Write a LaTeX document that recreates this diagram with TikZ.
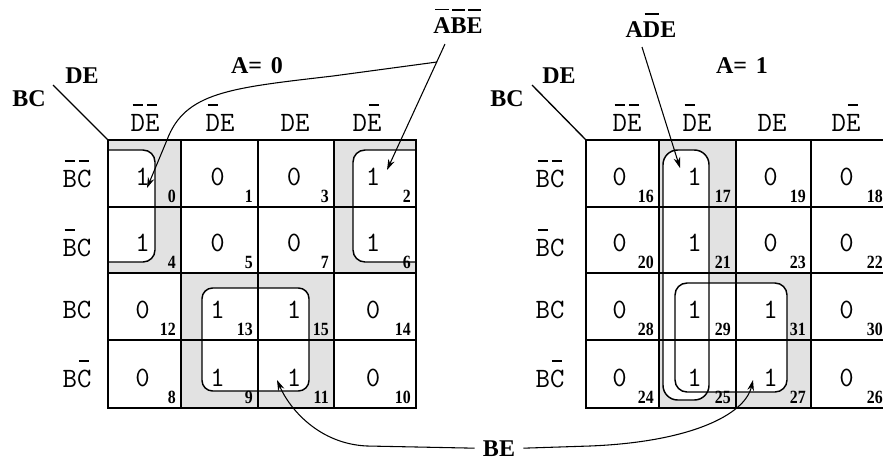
\documentclass[tikz,border=0pt]{standalone}
\usepackage{fontspec}
\usepackage{graphicx}
\setmainfont{Liberation Serif}
\usetikzlibrary{arrows.meta}
\definecolor{cellgray}{RGB}{226,226,226}
\newcommand\ovl[1]{\setbox0\hbox{#1}\rlap{\kern0.07em\rule[\dimexpr\ht0+0.28em\relax]{\dimexpr\wd0-0.14em\relax}{0.06em}}\box0}
\newcommand\subt[1]{\scalebox{0.85}[1]{#1}}
\tikzset{
  val/.style={font=\ttfamily\fontsize{21}{21}\selectfont, anchor=base, inner sep=0pt},
  subn/.style={font=\fontsize{14}{14}\selectfont\bfseries, anchor=base east, inner sep=0pt},
  lbl/.style={font=\fontsize{18}{18}\selectfont\bfseries, anchor=base, inner sep=0pt},
  gridln/.style={line width=1.5pt},
  grp/.style={line width=1.1pt},
  arr/.style={line width=0.8pt, -{Stealth[length=8pt,width=5pt]}},
}
\begin{document}
\begin{tikzpicture}[x=0.75pt,y=-0.75pt]
\useasboundingbox (0,0) rectangle (883,461);
\clip (0,0) rectangle (883,461);
\fill[white] (0,0) rectangle (883,461);

% gray cells
\fill[cellgray] (108,140) rectangle (181,273);
\fill[cellgray] (334,140) rectangle (416,273);
\fill[cellgray] (181,273) rectangle (334,408);
\fill[cellgray] (659,140) rectangle (736,408);
\fill[cellgray] (736,273) rectangle (811,408);
% white loop interiors
\fill[white, rounded corners=9pt] (95,150) -- (155,150) -- (155,262) -- (95,262) -- cycle;
\fill[white, rounded corners=9pt] (430,150) -- (353,150) -- (353,262) -- (430,262) -- cycle;
\fill[white, rounded corners=8pt] (202,288) rectangle (309,391);
\fill[white, rounded corners=11pt] (663,150) rectangle (709,400);
\fill[white, rounded corners=9pt] (675,283) rectangle (787,392);

% left map cells
\foreach \c/\r/\v/\s in {0/0/1/0,1/0/0/1,2/0/0/3,3/0/1/2,
                          0/1/1/4,1/1/0/5,2/1/0/7,3/1/1/6,
                          0/2/0/12,1/2/1/13,2/2/1/15,3/2/0/14,
                          0/3/0/8,1/3/1/9,2/3/1/11,3/3/0/10}{
  \pgfmathsetmacro\xa{{108,181,258,334,416}[\c]}
  \pgfmathsetmacro\xb{{108,181,258,334,416}[\c+1]}
  \pgfmathsetmacro\yb{{140,207,273,340,408}[\r+1]}
  \node[val,name=L\s] at ({(\xa+\xb)/2-2},\yb-22) {\v};
  \node[subn,name=Ls\s] at (\xb-5,\yb-5) {\subt{\s}};
}
% right map cells
\foreach \c/\r/\v/\s in {0/0/0/16,1/0/1/17,2/0/0/19,3/0/0/18,
                          0/1/0/20,1/1/1/21,2/1/0/23,3/1/0/22,
                          0/2/0/28,1/2/1/29,2/2/1/31,3/2/0/30,
                          0/3/0/24,1/3/1/25,2/3/1/27,3/3/0/26}{
  \pgfmathsetmacro\xa{{586,659,736,811,888}[\c]}
  \pgfmathsetmacro\xb{{586,659,736,811,888}[\c+1]}
  \pgfmathsetmacro\yb{{140,207,273,340,408}[\r+1]}
  \node[val,name=R\s] at ({(\xa+\xb)/2-3},\yb-22) {\v};
  \node[subn,name=Rs\s] at (\xb-5,\yb-5) {\subt{\s}};
}

% grids
\draw[gridln] (108,140) rectangle (416,408);
\draw[gridln] (181,140) -- (181,408) (258,140) -- (258,408) (334,140) -- (334,408)
              (108,207) -- (416,207) (108,273) -- (416,273) (108,340) -- (416,340);
\draw[gridln] (888,140) -- (586,140) -- (586,408) -- (888,408);
\draw[gridln] (659,140) -- (659,408) (736,140) -- (736,408) (811,140) -- (811,408) (888,140) -- (888,408)
              (586,207) -- (888,207) (586,273) -- (888,273) (586,340) -- (888,340);

% loops
\draw[grp, rounded corners=9pt] (108,150) -- (155,150) -- (155,262) -- (108,262);
\draw[grp, rounded corners=9pt] (416,150) -- (353,150) -- (353,262) -- (416,262);
\draw[grp, rounded corners=8pt] (202,288) rectangle (309,391);
\draw[grp, rounded corners=11pt] (663,150) rectangle (709,400);
\draw[grp, rounded corners=9pt] (675,283) rectangle (787,392);

% headers
\foreach \x/\t [count=\i] in {145/{\ovl{D}\ovl{E}},220/{\ovl{D}E},295/{DE},367/{D\ovl{E}}}
  \node[val,name=Lh\i] at (\x,131) {\t};
\foreach \x/\t [count=\i] in {627/{\ovl{D}\ovl{E}},697/{\ovl{D}E},772/{DE},846/{D\ovl{E}}}
  \node[val,name=Rh\i] at (\x,131) {\t};
% row labels
\foreach \y/\t [count=\i] in {187/{\ovl{B}\ovl{C}},256/{\ovl{B}C},318/{BC},387/{B\ovl{C}}}{
  \node[val,name=Lr\i] at (77,\y) {\t};
  \node[val,name=Rr\i] at (550,\y) {\t};
}

% corner labels
\node[lbl] (bcl) at (29,106) {BC};
\node[lbl] (del) at (82,83) {DE};
\node[lbl] (bcr) at (507,106) {BC};
\node[lbl] (der) at (559,83) {DE};
\coordinate (dl1) at (53,85); \coordinate (dl2) at (108,140);
\coordinate (dr1) at (532,85); \coordinate (dr2) at (586,140);
\draw[line width=1pt] (dl1) -- (dl2);
\draw[line width=1pt] (dr1) -- (dr2);

\node[lbl] (a0) at (257,73) {A=\kern0.12em\ 0};
\node[lbl] (a1) at (742,73) {A=\kern0.12em\ 1};

% term labels
\node[lbl] (abe) at (458,33) {\ovl{A}\ovl{B}\ovl{E}};
\node[lbl] (ade) at (651,37) {A\ovl{D}E};
\node[lbl, inner xsep=6pt] (be) at (499,456) {BE};

% arrows
\coordinate (s1) at (445,44);
\coordinate (j1) at (437,62);
\coordinate (t1) at (387,170);
\coordinate (t2) at (147,188);
\draw[arr] (s1) -- (t1);
\draw[arr] (j1) -- (333,76) .. controls (230,88) and (185,92) .. (167,140) -- (t2);

\coordinate (s3) at (642,47);
\coordinate (t3) at (680,168);
\draw[arr] (s3) -- (t3);

\coordinate (t4) at (277,380);
\coordinate (t5) at (753,380);
\draw[arr] (be.west) -- (367,446) .. controls (320,444) and (290,410) .. (t4);
\draw[arr] (be.east) -- (590,446) .. controls (690,442) and (745,415) .. (t5);
\end{tikzpicture}
\end{document}
